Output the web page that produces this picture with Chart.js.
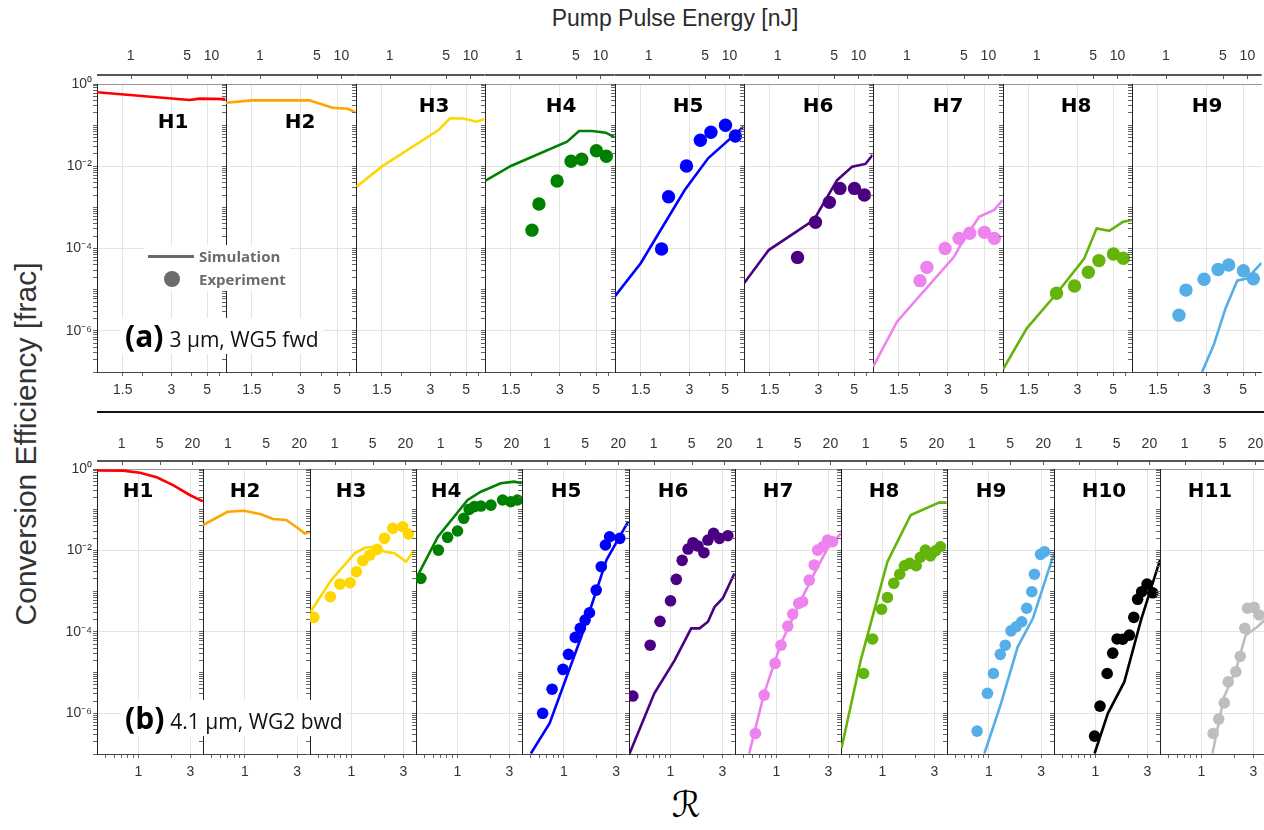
<!DOCTYPE html>
<html>
<head>
<meta charset="utf-8">
<title>Conversion efficiency per harmonic</title>
<script src="https://cdn.jsdelivr.net/npm/chart.js@4.4.1/dist/chart.umd.min.js"></script>
<style>
  html, body { margin: 0; padding: 0; background: #fff; }
  body { position: relative; width: 1264px; height: 830px; overflow: hidden;
         font-family: "Liberation Sans", Arial, sans-serif; color: #333; }
  canvas { position: absolute; }
  .abs { position: absolute; white-space: nowrap; }
  .hname { font: bold 20px "DejaVu Sans", sans-serif; color: #000; transform: translate(-50%, -50%); z-index: 4; }
  .leg { font: bold 15px "Open Sans", sans-serif; color: #6b6b6b; transform: translateY(-50%); z-index: 6; }
  .note { background: #fff; z-index: 5; font-family: "Open Sans", sans-serif; color: #111;
          display: flex; align-items: baseline; padding: 0 4px; height: 36px; line-height: 36px; }
  .note b { font-size: 30px; color: #000; margin-right: 6px; }
  .note span { font-size: 21px; }
</style>
</head>
<body>

<div class="abs" style="left:675px;top:7px;font-size:23px;line-height:23px;transform:translateX(-50%);color:#2b2b2b">Pump Pulse Energy [nJ]</div>
<div class="abs" style="left:26px;top:444px;font-size:30px;line-height:32px;transform:translate(-50%,-50%) rotate(-90deg);color:#333">Conversion Efficiency [frac]</div>
<div class="abs" style="left:686px;top:804px;font-size:36px;font-family:'DejaVu Serif','DejaVu Sans',serif;transform:translate(-50%,-50%);color:#000">ℛ</div>
<div class="abs" style="left:97px;top:411px;width:1167px;height:2px;background:#111"></div>

<!-- legend of row (a) -->
<div class="abs" style="left:144px;top:245px;width:146px;height:46px;background:#fff;z-index:5"></div>
<div class="abs" style="left:148px;top:255px;width:46px;height:3px;background:#6b6b6b;z-index:6"></div>
<div class="abs leg" style="left:199px;top:256px">Simulation</div>
<div class="abs" style="left:164px;top:271px;width:16px;height:16px;border-radius:50%;background:#6b6b6b;z-index:6"></div>
<div class="abs leg" style="left:199px;top:279px">Experiment</div>

<div class="abs note" style="left:121px;top:318px"><b>(a)</b><span>3 μm, WG5 fwd</span></div>
<div class="abs note" style="left:121px;top:700px"><b>(b)</b><span>4.1 μm, WG2 bwd</span></div>

<script>
// ---------- values ----------
// row (a): 3 um, WG5 fwd
const aNames = ['H1', 'H2', 'H3', 'H4', 'H5', 'H6', 'H7', 'H8', 'H9'];
const aColors = ['#ff0000', '#ffa500', '#ffd700', '#008000', '#0000ff', '#4b0082', '#ee82ee', '#64b40a', '#56aee8'];

const aSimR = [
  [1.04, 3.9, 4.5, 6.5],
  [1.04, 1.5, 3.37, 4.69, 5.8, 6.5],
  [1.05, 1.5, 3.37, 3.97, 4.8, 5.8, 6.5],
  [1.04, 1.5, 3.32, 3.93, 4.74, 5.74, 6.5],
  [1.04, 1.5, 2.81, 3.92, 6.5],
  [1.04, 1.48, 2.81, 3.92, 4.86, 5.87, 6.5],
  [1.04, 1.46, 3.27, 3.59, 4.66, 5.77, 6.5],
  [1.04, 1.46, 2.24, 3.30, 3.95, 4.73, 5.77, 6.5],
  [2.80, 3.30, 3.90, 4.60, 5.31, 6.5]
];
const aSimV = [
  [0.63, 0.41, 0.44, 0.43],
  [0.35, 0.40, 0.40, 0.265, 0.25, 0.205],
  [3.2e-3, 9.8e-3, 0.076, 0.147, 0.145, 0.121, 0.141],
  [4.4e-3, 0.0102, 0.0396, 0.072, 0.072, 0.0655, 0.0506],
  [7.0e-6, 4.4e-5, 2.65e-3, 0.0156, 0.0916],
  [1.43e-5, 9.2e-5, 4.9e-4, 4.6e-3, 9.8e-3, 0.0114, 0.0188],
  [1.34e-7, 1.67e-6, 6.3e-5, 1.22e-4, 5.9e-4, 8.7e-4, 1.51e-3],
  [1.16e-7, 1.15e-6, 8.2e-6, 5.6e-5, 3.1e-4, 2.7e-4, 4.5e-4, 4.9e-4],
  [1.0e-7, 4.5e-7, 3.5e-6, 1.66e-5, 1.9e-5, 4.5e-5]
];
// measured points share one R scan in row (a)
const aExpR = [2.02, 2.23, 2.88, 3.51, 4.08, 5.02, 5.78];
const aExpV = [
  [],
  [],
  [],
  [2.8e-4, 1.21e-3, 4.4e-3, 0.0132, 0.0148, 0.0239, 0.0175],
  [9.8e-5, 1.82e-3, 0.0102, 0.0428, 0.067, 0.099, 0.0545],
  [null, 6.1e-5, 4.35e-4, 1.33e-3, 2.9e-3, 2.9e-3, 2.0e-3],
  [1.66e-5, 3.5e-5, 1.01e-4, 1.77e-4, 2.35e-4, 2.48e-4, 1.77e-4],
  [null, 8.2e-6, 1.23e-5, 2.65e-5, 5.1e-5, 7.4e-5, 5.8e-5],
  [2.4e-6, 9.8e-6, 1.79e-5, 3.1e-5, 4.0e-5, 2.9e-5, 1.85e-5]
];

// row (b): 4.1 um, WG2 bwd
const bNames = ['H1', 'H2', 'H3', 'H4', 'H5', 'H6', 'H7', 'H8', 'H9', 'H10', 'H11'];
const bColors = ['#ff0000', '#ffa500', '#ffd700', '#008000', '#0000ff', '#4b0082', '#ee82ee', '#64b40a', '#56aee8', '#000000', '#bebebe'];

const bSimR = [
  [0.415, 0.72, 1.03, 1.47, 2.08, 2.96, 3.9],
  [0.415, 0.695, 0.985, 1.40, 1.80, 2.38, 3.05, 3.51, 3.9],
  [0.42, 0.65, 1.07, 1.32, 1.69, 2.01, 2.48, 3.18, 3.74],
  [0.425, 0.66, 1.24, 1.64, 2.50, 3.32, 3.9],
  [0.50, 0.74, 1.44, 2.44, 3.85],
  [0.42, 0.71, 1.09, 1.55, 1.85, 2.21, 2.54, 3.03, 3.87],
  [0.56, 0.77, 1.10, 1.68, 2.22, 2.95, 3.91],
  [0.42, 0.63, 1.11, 1.82, 3.31, 3.89],
  [0.91, 1.29, 1.83, 2.52, 3.92],
  [0.98, 1.30, 1.84, 2.62, 3.92],
  [1.26, 1.61, 2.07, 2.55, 3.27, 3.81]
];
const bSimV = [
  [0.92, 0.91, 0.81, 0.625, 0.40, 0.23, 0.16],
  [0.042, 0.089, 0.094, 0.077, 0.059, 0.056, 0.035, 0.026, 0.029],
  [3.1e-4, 1.87e-3, 8.5e-3, 0.0116, 0.0123, 9.3e-3, 8.5e-3, 5.3e-3, 9.8e-3],
  [2.26e-3, 0.0217, 0.173, 0.277, 0.446, 0.488, 0.446],
  [1.03e-7, 5.6e-7, 7.6e-5, 5.8e-3, 0.0507],
  [1.03e-7, 3.1e-6, 2.0e-5, 1.22e-4, 1.22e-4, 1.77e-4, 4.1e-4, 6.7e-4, 2.7e-3],
  [1.03e-7, 3.1e-6, 5.2e-5, 6.0e-4, 2.7e-3, 0.0113, 0.0263],
  [1.4e-7, 2.0e-5, 5.3e-3, 0.074, 0.149, 0.149],
  [1.03e-7, 1.75e-6, 4.3e-5, 2.15e-4, 8.5e-3],
  [1.03e-7, 1.0e-6, 5.9e-6, 1.95e-4, 5.8e-3],
  [1.03e-7, 2.5e-6, 1.15e-5, 8.3e-5, 1.33e-4, 1.95e-4]
];
const bExpR = [
  [],
  [],
  [0.45, 0.64, 0.78, 0.97, 1.11, 1.27, 1.47, 1.72, 2.01, 2.40, 2.96, 3.34],
  [0.46, 0.667, 0.81, 1.0, 1.14, 1.28, 1.43, 1.64, 2.03, 2.6, 3.09, 3.56],
  [0.64, 0.78, 0.98, 1.10, 1.27, 1.41, 1.56, 1.71, 1.97, 2.19, 2.39, 2.61, 3.23],
  [0.45, 0.65, 0.80, 1.0, 1.13, 1.28, 1.45, 1.61, 1.79, 2.03, 2.21, 2.49, 2.82, 3.37],
  [0.64, 0.77, 0.97, 1.10, 1.27, 1.41, 1.60, 1.74, 2.0, 2.22, 2.39, 2.66, 2.95, 3.28],
  [0.67, 0.81, 0.98, 1.11, 1.27, 1.44, 1.59, 1.78, 2.04, 2.23, 2.48, 2.76, 3.07, 3.41],
  [0.78, 0.97, 1.10, 1.27, 1.41, 1.59, 1.77, 1.99, 2.21, 2.46, 2.60, 2.95, 3.21],
  [0.98, 1.10, 1.28, 1.44, 1.58, 1.78, 2.05, 2.25, 2.44, 2.66, 2.98, 3.36],
  [1.28, 1.44, 1.62, 1.76, 2.07, 2.27, 2.50, 2.65, 3.05, 3.39]
];
const bExpV = [
  [],
  [],
  [2.27e-4, 7.3e-4, 1.49e-3, 1.61e-3, 3.0e-3, 5.6e-3, 7.7e-3, 0.0106, 0.0198, 0.0349, 0.0382, 0.0253],
  [2.06e-3, 0.0102, 0.021, 0.030, 0.0615, 0.102, 0.119, 0.123, 0.130, 0.173, 0.157, 0.173],
  [1.0e-6, 3.9e-6, 1.2e-5, 2.8e-5, 7.3e-5, 1.22e-4, 1.95e-4, 2.95e-4, 1.06e-3, 3.98e-3, 0.0136, 0.0217, 0.0198],
  [2.65e-6, 4.7e-5, 1.81e-4, 5.8e-4, 1.95e-3, 5.7e-3, 0.0108, 0.0155, 0.0128, 8.8e-3, 0.018, 0.0263, 0.0198, 0.023],
  [3.2e-7, 2.8e-6, 1.68e-5, 4.7e-5, 1.39e-4, 2.74e-4, 5.0e-4, 5.5e-4, 1.87e-3, 4.4e-3, 0.0102, 0.0123, 0.018, 0.0164],
  [9.5e-6, 6.7e-5, 3.6e-4, 7.0e-4, 1.56e-3, 2.6e-3, 4.2e-3, 4.8e-3, 4.2e-3, 6.8e-3, 0.0102, 7.3e-3, 9.8e-3, 0.0123],
  [3.65e-7, 3.1e-6, 9.5e-6, 2.8e-5, 4.7e-5, 1.06e-4, 1.33e-4, 1.77e-4, 3.8e-4, 9.7e-4, 2.6e-3, 8.0e-3, 9.3e-3],
  [2.75e-7, 1.5e-6, 9.5e-6, 3.0e-5, 6.7e-5, 6.6e-5, 8.3e-5, 2.27e-4, 6.3e-4, 9.7e-4, 1.49e-3, 9.1e-4],
  [3.2e-7, 7.2e-7, 1.8e-6, 5.9e-6, 1.05e-5, 2.5e-5, 1.22e-4, 3.8e-4, 4.0e-4, 2.6e-4]
];

// tick labels
const yTickVals = [1e-6, 1e-4, 1e-2, 1];
const yTickText = ['10⁻⁶', '10⁻⁴', '10⁻²', '10⁰'];
const aRTicks = [1.5, 3, 5];
const bRTicks = [1, 3];
const aETicks = [1, 5, 10];
const bETicks = [1, 5, 20];

// ---------- layout ----------
const Y_W = 60, TOP_H = 40, BOT_H = 30;

const rowA = {
  top: 84, bottom: 372, left: 97, step: 129.4,
  rMin: 1.04, rMax: 6.5, ePerR2: 1 / (1.68 * 1.68),
  rTicks: aRTicks, rMinor: [2, 4, 6], eTicks: aETicks,
  axisGap: 9, topLift: 17, dot: 6.7,
  names: aNames, colors: aColors, simR: aSimR, simV: aSimV,
  expR: aExpV.map(() => aExpR), expV: aExpV,
  labelX: [76, 74, 78, 76, 73, 74, 75, 73, 75],
  labelY: [37, 37, 21, 21, 21, 21, 21, 21, 21]
};
const rowB = {
  top: 469, bottom: 754, left: 97, step: 106.3,
  rMin: 0.415, rMax: 3.92, ePerR2: 1 / (0.70 * 0.70),
  rTicks: bRTicks, rMinor: [0.5, 0.6, 0.7, 0.8, 0.9, 2], eTicks: bETicks,
  axisGap: 8, topLift: 14, dot: 5.8,
  names: bNames, colors: bColors, simR: bSimR, simV: bSimV,
  expR: bExpR, expV: bExpV,
  labelX: [41, 42, 41, 30, 44, 44, 43, 43, 44, 50, 50],
  labelY: [21, 21, 21, 21, 21, 21, 21, 21, 21, 21, 21]
};

const yAllTicks = [];
for (let e = -7; e < 0; e++) {
  for (let m = 1; m < 10; m++) yAllTicks.push(m * Math.pow(10, e));
}
yAllTicks.push(1);

function sameLog(a, b) {
  return Math.abs(Math.log10(a) - Math.log10(b)) < 1e-6;
}

Chart.defaults.font.family = '"Liberation Sans", Arial, sans-serif';
Chart.defaults.font.size = 14;
Chart.defaults.color = '#333';

// second (energy) axis line drawn a few pixels above the plot box
const topAxisLine = {
  id: 'topAxisLine',
  afterDraw(chart, args, opts) {
    const {ctx, chartArea} = chart;
    const s = chart.scales.x2;
    const y = chartArea.top - opts.gap;
    ctx.save();
    ctx.strokeStyle = '#555';
    ctx.lineWidth = 2;
    ctx.beginPath();
    ctx.moveTo(chartArea.left, y);
    ctx.lineTo(chartArea.right, y);
    ctx.stroke();
    ctx.lineWidth = 1;
    opts.ticks.forEach(v => {
      const x = Math.round(s.getPixelForValue(v)) + 0.5;
      ctx.beginPath();
      ctx.moveTo(x, y);
      ctx.lineTo(x, y + 4);
      ctx.stroke();
    });
    ctx.restore();
  }
};

function buildRow(row) {
  const xAll = row.rTicks.concat(row.rMinor).sort((a, b) => a - b);
  row.names.forEach((name, i) => {
    const pl = Math.round(row.left + i * row.step);
    const pr = Math.round(row.left + (i + 1) * row.step);
    const canvas = document.createElement('canvas');
    canvas.width = Y_W + pr - pl;
    canvas.height = TOP_H + (row.bottom - row.top) + BOT_H;
    canvas.style.left = (pl - Y_W) + 'px';
    canvas.style.top = (row.top - TOP_H) + 'px';
    document.body.appendChild(canvas);

    const sim = row.simR[i].map((r, j) => ({x: r, y: row.simV[i][j]}));
    const exp = row.expV[i]
      .map((v, j) => ({x: row.expR[i][j], y: v}))
      .filter(p => p.y !== null);

    new Chart(canvas, {
      type: 'scatter',
      data: {
        datasets: [
          {type: 'scatter', data: exp, backgroundColor: row.colors[i], borderWidth: 0,
           pointRadius: row.dot, pointHoverRadius: row.dot, order: 1},
          {type: 'line', data: sim, borderColor: row.colors[i], borderWidth: 2.6,
           pointRadius: 0, fill: false, tension: 0, order: 2}
        ]
      },
      options: {
        responsive: false,
        animation: false,
        devicePixelRatio: 1,
        events: [],
        layout: {padding: 0, autoPadding: false},
        plugins: {
          legend: {display: false},
          tooltip: {enabled: false},
          topAxisLine: {gap: row.axisGap, ticks: row.eTicks}
        },
        scales: {
          x: {
            type: 'logarithmic', position: 'bottom', min: row.rMin, max: row.rMax,
            afterBuildTicks: s => { s.ticks = xAll.map(v => ({value: v})); },
            afterFit: s => { s.height = BOT_H; },
            ticks: {autoSkip: false, maxRotation: 0, padding: 6, color: '#333',
                    callback: v => row.rTicks.includes(v) ? String(v) : ''},
            grid: {color: c => row.rTicks.includes(c.tick.value) ? '#e4e4e4' : 'rgba(0,0,0,0)',
                   tickColor: '#666', tickLength: 4},
            border: {color: '#444', width: 1}
          },
          x2: {
            type: 'logarithmic', position: 'top',
            min: row.ePerR2 * row.rMin * row.rMin, max: row.ePerR2 * row.rMax * row.rMax,
            afterBuildTicks: s => { s.ticks = row.eTicks.map(v => ({value: v})); },
            afterFit: s => { s.height = TOP_H; },
            ticks: {autoSkip: false, maxRotation: 0, padding: 2, color: '#333',
                    callback: v => String(v)},
            // hidden tick marks only lift the labels above the plot box
            grid: {display: false, drawTicks: true, tickLength: row.topLift},
            border: {color: '#999', width: 1}
          },
          y: {
            type: 'logarithmic', position: 'left', min: 1e-7, max: 1,
            afterBuildTicks: s => { s.ticks = yAllTicks.map(v => ({value: v})); },
            afterFit: s => { s.width = Y_W; },
            ticks: {autoSkip: false, padding: 1, color: '#333',
                    callback: v => {
                      if (i !== 0) return '';
                      const k = yTickVals.findIndex(t => sameLog(t, v));
                      return k >= 0 ? yTickText[k] : '';
                    }},
            grid: {color: c => (c.tick.value < 0.5 && yTickVals.some(t => sameLog(t, c.tick.value))) ? '#e4e4e4' : 'rgba(0,0,0,0)',
                   tickColor: '#666', tickLength: 4},
            border: {color: '#222', width: 1}
          }
        }
      },
      plugins: [topAxisLine]
    });

    const lab = document.createElement('div');
    lab.className = 'abs hname';
    lab.textContent = name;
    lab.style.left = (pl + row.labelX[i]) + 'px';
    lab.style.top = (row.top + row.labelY[i]) + 'px';
    document.body.appendChild(lab);
  });
}

buildRow(rowA);
buildRow(rowB);
</script>
</body>
</html>
